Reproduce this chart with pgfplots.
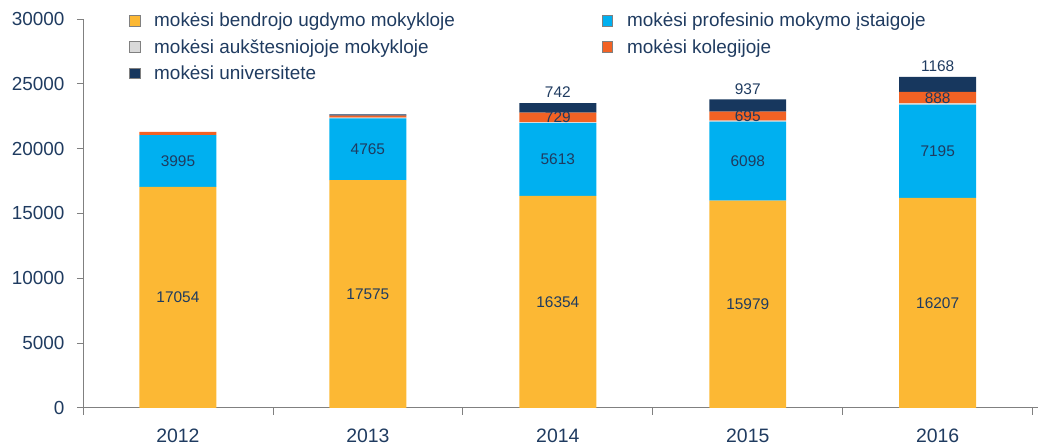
\documentclass[border=0pt]{standalone}
\usepackage{pgfplots}
\pgfplotsset{compat=1.18}
\usepackage{pgfplotstable}
\usepackage{fontspec}
\setmainfont{Liberation Sans}
\definecolor{cY}{RGB}{252,184,52}
\definecolor{cB}{RGB}{0,176,240}
\definecolor{cG}{RGB}{217,217,217}
\definecolor{cO}{RGB}{242,98,36}
\definecolor{cN}{RGB}{23,55,94}
\definecolor{cT}{RGB}{31,59,96}
\definecolor{cAx}{RGB}{128,128,128}
\pgfplotstableread{
x y b g o n
0 17054 3995 0 250 0
1 17575 4765 50 150 100
2 16354 5613 80 729 742
3 15979 6098 80 695 937
4 16207 7195 80 888 1168
}\data
\pgfplotsset{
  base/.style={scale only axis, width=955bp, height=389bp,
    xmin=-0.5, xmax=4.526, ymin=0, ymax=30000, clip=false},
  lbl/.style={only marks, mark=*, mark size=0pt, mark options={draw=none,fill=none},
    nodes near coords, point meta=explicit symbolic,
    nodes near coords style={anchor=center, font=\fontsize{15.5}{19}\selectfont, text=cT, inner sep=0pt}},
}
\begin{document}
\begin{tikzpicture}
\begin{axis}[base, name=ax, ybar stacked, bar width=77bp,
  axis x line*=bottom, axis y line*=left,
  axis line style={cAx, line width=0.8bp},
  xtick={0,1,2,3,4}, xticklabels={2012,2013,2014,2015,2016},
  minor xtick={-0.5,0.5,1.5,2.5,3.5,4.5},
  major x tick style={draw=none},
  minor x tick style={cAx, line width=0.8bp},
  minor tick length=7bp,
  ytick={0,5000,...,30000}, scaled y ticks=false,
  y tick style={cAx, line width=0.8bp}, major tick length=6bp,
  tick align=outside,
  /pgf/number format/assume math mode=true,
  /pgf/number format/1000 sep={},
  ticklabel style={text=cT},
  xticklabel style={yshift=-12bp, font=\fontsize{19.5}{24}\selectfont},
  yticklabel style={xshift=-9bp, font=\fontsize{19}{24}\selectfont},
  legend columns=2,
  legend cell align=left,
  legend style={at={(axis description cs:0,1)}, anchor=north west,
    xshift=43bp, yshift=10bp, draw=none, fill=none,
    font=\fontsize{19}{22}\selectfont, text=cT, row sep=7bp,
    /tikz/every odd column/.append style={column sep=12bp},
    /tikz/every even column/.append style={column sep=145bp}},
  legend image code/.code={\draw[#1, draw=cAx, line width=0.6bp] (0bp,-5.25bp) rectangle (10.5bp,5.25bp);},
]
\addplot[fill=cY, draw=none] table[x=x,y=y]{\data};
\addplot[fill=cB, draw=none] table[x=x,y=b]{\data};
\addplot[fill=cG, draw=none] table[x=x,y=g]{\data};
\addplot[fill=cO, draw=none] table[x=x,y=o]{\data};
\addplot[fill=cN, draw=none] table[x=x,y=n]{\data};
\legend{mokėsi bendrojo ugdymo mokykloje, mokėsi profesinio mokymo įstaigoje, mokėsi aukštesniojoje mokykloje, mokėsi kolegijoje, mokėsi universitete}
\end{axis}
\begin{axis}[base, hide axis]
\addplot[lbl] table[x=x, y expr=\thisrow{y}/2, meta=y]{\data};
\addplot[lbl] table[x=x, y expr=\thisrow{y}+\thisrow{b}/2, meta=b]{\data};
\addplot[lbl, restrict x to domain=1.5:4.5] table[x=x, y expr=\thisrow{y}+\thisrow{b}+\thisrow{g}+\thisrow{o}/2, meta=o]{\data};
\addplot[lbl, restrict x to domain=1.5:4.5, nodes near coords style={anchor=south, yshift=5bp}] table[x=x, y expr=\thisrow{y}+\thisrow{b}+\thisrow{g}+\thisrow{o}+\thisrow{n}, meta=n]{\data};
\end{axis}
\path (ax.south west) ++(-83bp,-39bp) rectangle ++(1038bp,447bp);
\end{tikzpicture}
\end{document}
